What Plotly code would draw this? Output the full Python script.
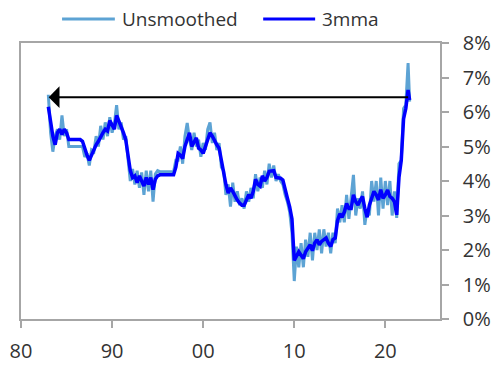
import pandas as pd
import plotly.graph_objects as go

# quarterly observations 1983Q1 .. 2022Q3, plus Sep-2022
dates = pd.date_range("1983-01-01", "2022-07-01", freq="QS").tolist() + [pd.Timestamp("2022-09-01")]

unsmoothed = [
    6.50, 5.40, 4.85, 5.30,  # 1983
    5.50, 5.20, 5.90, 5.30,  # 1984
    5.50, 5.00, 5.00, 5.00,  # 1985
    5.00, 5.00, 5.00, 5.00,  # 1986
    4.70, 4.80, 4.45, 4.90,  # 1987
    4.85, 5.30, 5.00, 5.60,  # 1988
    5.20, 5.70, 5.30, 5.85,  # 1989
    5.40, 5.65, 6.20, 5.50,  # 1990
    5.70, 5.20, 5.30, 4.60,  # 1991
    4.00, 4.35, 3.90, 4.30,  # 1992
    3.80, 4.25, 3.60, 4.30,  # 1993
    3.70, 4.30, 3.40, 4.20,  # 1994
    4.30, 4.27, 4.27, 4.27,  # 1995
    4.27, 4.27, 4.27, 4.27,  # 1996
    4.60, 4.60, 5.00, 4.50,  # 1997
    5.30, 5.68, 5.20, 4.90,  # 1998
    5.40, 5.00, 5.20, 4.70,  # 1999
    5.10, 4.90, 5.50, 5.70,  # 2000
    5.10, 5.40, 4.90, 5.10,  # 2001
    4.40, 4.30, 3.60, 3.90,  # 2002
    3.26, 3.95, 3.40, 3.70,  # 2003
    3.30, 3.50, 3.20, 3.70,  # 2004
    3.40, 3.80, 3.50, 4.20,  # 2005
    3.70, 4.10, 3.80, 4.30,  # 2006
    3.90, 4.50, 4.10, 4.45,  # 2007
    4.00, 4.20, 4.00, 3.90,  # 2008
    3.60, 3.40, 3.10, 2.50,  # 2009
    1.10, 2.10, 1.50, 2.20,  # 2010
    1.50, 2.30, 1.80, 2.50,  # 2011
    1.70, 2.50, 2.00, 2.60,  # 2012
    1.90, 2.60, 2.10, 2.50,  # 2013
    1.90, 2.50, 2.20, 3.20,  # 2014
    2.80, 3.30, 2.80, 3.60,  # 2015
    2.90, 3.50, 4.18, 3.00,  # 2016
    3.50, 3.20, 3.70, 2.73,  # 2017
    3.20, 3.00, 4.00, 3.40,  # 2018
    4.00, 3.00, 4.10, 3.20,  # 2019
    4.00, 3.30, 4.00, 3.00,  # 2020
    3.70, 2.93, 4.50, 4.60,  # 2021
    6.10, 6.20, 7.42, 6.30,  # 2022
]

mma3 = [
    6.15, 5.70, 5.30, 5.05,  # 1983
    5.40, 5.50, 5.35, 5.50,  # 1984
    5.40, 5.20, 5.20, 5.20,  # 1985
    5.20, 5.20, 5.20, 5.15,  # 1986
    4.90, 4.75, 4.60, 4.75,  # 1987
    4.95, 5.05, 5.15, 5.30,  # 1988
    5.40, 5.50, 5.45, 5.75,  # 1989
    5.60, 5.50, 5.90, 5.75,  # 1990
    5.55, 5.40, 5.20, 4.80,  # 1991
    4.30, 4.10, 4.15, 3.95,  # 1992
    4.15, 4.00, 3.85, 4.10,  # 1993
    3.90, 4.10, 3.75, 4.05,  # 1994
    4.15, 4.18, 4.18, 4.18,  # 1995
    4.18, 4.18, 4.18, 4.18,  # 1996
    4.40, 4.80, 4.75, 4.65,  # 1997
    5.00, 5.20, 5.40, 5.00,  # 1998
    5.15, 5.25, 4.95, 4.90,  # 1999
    4.80, 5.00, 5.20, 5.40,  # 2000
    5.30, 5.15, 5.05, 4.95,  # 2001
    4.60, 4.20, 3.90, 3.65,  # 2002
    3.80, 3.70, 3.55, 3.45,  # 2003
    3.36, 3.30, 3.30, 3.45,  # 2004
    3.60, 3.50, 3.70, 4.05,  # 2005
    3.90, 3.85, 4.15, 4.00,  # 2006
    4.10, 4.28, 4.30, 4.30,  # 2007
    4.10, 4.10, 4.08, 4.03,  # 2008
    3.80, 3.50, 3.25, 2.90,  # 2009
    1.70, 1.85, 1.95, 1.85,  # 2010
    1.75, 1.95, 2.05, 2.15,  # 2011
    1.98, 2.20, 2.30, 2.15,  # 2012
    2.25, 2.30, 2.35, 2.20,  # 2013
    2.10, 2.30, 2.35, 2.85,  # 2014
    3.05, 2.95, 3.10, 3.35,  # 2015
    3.20, 3.20, 3.60, 3.40,  # 2016
    3.30, 3.45, 3.55, 3.20,  # 2017
    2.95, 3.30, 3.50, 3.70,  # 2018
    3.60, 3.45, 3.75, 3.50,  # 2019
    3.60, 3.74, 3.55, 3.50,  # 2020
    3.40, 3.02, 4.10, 4.60,  # 2021
    5.80, 6.10, 6.64, 6.35,  # 2022
]

series_names = ["Unsmoothed", "3mma"]
series_colors = ["#5DA3D4", "#0000FF"]

tick_vals = ["1980-01-01", "1990-01-01", "2000-01-01", "2010-01-01", "2020-01-01"]
tick_text = ["80", "90", "00", "10", "20"]
y_ticks = [0, 1, 2, 3, 4, 5, 6, 7, 8]
y_text = [f"{v}%" for v in y_ticks]

arrow_start = ("2022-09-01", 6.43)
arrow_end = ("1983-01-15", 6.43)

fig = go.Figure()
fig.add_trace(go.Scatter(x=dates, y=unsmoothed, mode="lines", name=series_names[0],
                         line=dict(color=series_colors[0], width=3), showlegend=False))
fig.add_trace(go.Scatter(x=dates, y=mma3, mode="lines", name=series_names[1],
                         line=dict(color=series_colors[1], width=3.5), showlegend=False))

fig.add_annotation(x=arrow_end[0], y=arrow_end[1], ax=arrow_start[0], ay=arrow_start[1],
                   xref="x", yref="y", axref="x", ayref="y", text="",
                   showarrow=True, arrowhead=1, arrowsize=1.8, arrowwidth=2, arrowcolor="black")

# custom legend (paper coordinates)
leg_y = 1.087
leg_items = [(0.098, 0.224, 0.236), (0.578, 0.702, 0.714)]
for (x0, x1, xt), name, col in zip(leg_items, series_names, series_colors):
    fig.add_shape(type="line", xref="paper", yref="paper", x0=x0, x1=x1, y0=leg_y, y1=leg_y,
                  line=dict(color=col, width=3))
    fig.add_annotation(xref="paper", yref="paper", x=xt, y=leg_y, text=name, showarrow=False,
                       xanchor="left", yanchor="middle", font=dict(size=19, color="#333333"))

font = "'Open Sans', sans-serif"
axis_common = dict(showgrid=False, zeroline=False, automargin=False,
                   showline=True, linecolor="#A6A6A6", linewidth=1.5, mirror=True,
                   ticks="outside", ticklen=7, tickcolor="#A6A6A6", tickwidth=1.5,
                   tickfont=dict(size=20, color="#333333"))
fig.update_layout(
    width=491, height=365,
    margin=dict(l=21, r=51, t=43, b=46),
    paper_bgcolor="white", plot_bgcolor="white",
    font=dict(family=font, size=19, color="#333333"),
    showlegend=False,
    xaxis=dict(type="date", range=["1980-01-01", "2026-01-01"],
               tickvals=tick_vals, ticktext=tick_text, ticklabelstandoff=6, **axis_common),
    yaxis=dict(range=[0, 8], side="right", tickvals=y_ticks, ticktext=y_text,
               ticklabelstandoff=10, **axis_common),
)

fig.write_html("out.html", config={"displayModeBar": False},
               post_script="document.body.style.margin='0';document.body.style.overflow='hidden';")
